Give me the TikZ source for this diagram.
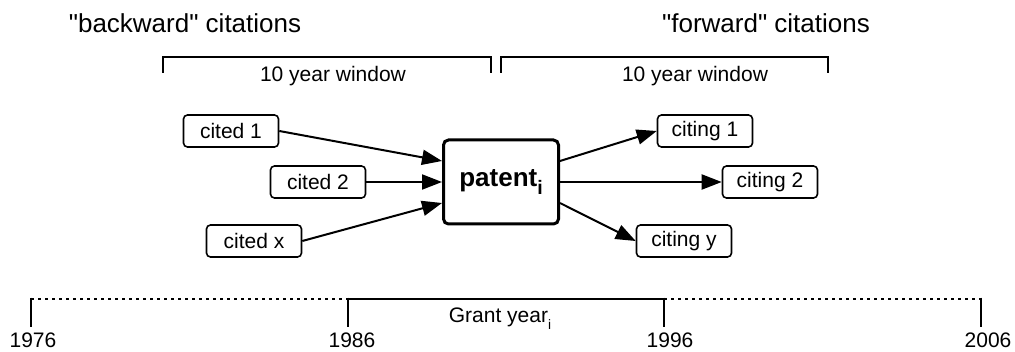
\documentclass[tikz,border=0pt]{standalone}
\usepackage{fontspec}
\setmainfont{Liberation Sans}
\usetikzlibrary{arrows.meta}

% lowered small index letter
\newcommand{\idx}[2][0.6]{\raisebox{-0.3em}{\scalebox{#1}{#2}}}

\begin{document}
\begin{tikzpicture}[x=1pt,y=-1pt,>={Triangle[length=20pt,width=15pt]}]
\tikzstyle{every node} = [font = \fontsize{21}{25}\selectfont, inner sep=0pt]
\tikzstyle{box} = [draw, rounded corners=4pt, line width=1.6pt, minimum width=95pt, minimum height=32pt]
\tikzstyle{patentbox} = [draw, rounded corners=5pt, line width=3pt, minimum width=115pt, minimum height=84pt, font=\fontsize{26}{30}\selectfont\bfseries]
\tikzstyle{heading} = [font = \fontsize{26}{30}\selectfont]
\tikzstyle{bracket} = [line width=1.3pt]
\tikzstyle{link} = [->, line width=2pt]
\tikzstyle{axis} = [line width=2.6pt]
\tikzstyle{dotline} = [line width=2pt, dash pattern=on 3pt off 4pt]
\useasboundingbox (0,0) rectangle (1015,352);

	% headings and windows
	\node [heading] (back) at (185,23) {\textquotedbl backward\textquotedbl{} citations};
	\node [heading] (fwd) at (766,23) {\textquotedbl forward\textquotedbl{} citations};
	\draw [bracket] (163,73) -- (163,57) -- (491,57) -- (491,73);
	\draw [bracket] (501,73) -- (501,57) -- (828,57) -- (828,73);
	\node [anchor=base] (winback) at (333,82) {10 year window};
	\node [anchor=base] (winfwd) at (695,82) {10 year window};

	% patent and its citations
	\node [patentbox] (patent) at (501,182) {patent\idx[0.75]{i}};
	\node [box] (cited1) at (231,131) {cited 1};
	\node [box] (cited2) at (318,182) {cited 2};
	\node [box] (citedx) at (254,241) {cited x};
	\node [box] (citing1) at (705,131) {citing 1};
	\node [box] (citing2) at (770,182) {citing 2};
	\node [box] (citingy) at (684,241) {citing y};

	\draw [link] (cited1.east) -- ([yshift=21pt]patent.west);
	\draw [link] (cited2.east) -- (patent.west);
	\draw [link] (citedx.east) -- ([yshift=-21pt]patent.west);
	\draw [link] ([yshift=21pt]patent.east) -- (citing1.west);
	\draw [link] (patent.east) -- (citing2.west);
	\draw [link] ([yshift=-21pt]patent.east) -- (citingy.west);

	% time line
	\coordinate (t76) at (31,299);
	\coordinate (t86) at (348,299);
	\coordinate (t96) at (664,299);
	\coordinate (t06) at (981,299);
	\draw [dotline] (t76) -- (t86);
	\draw [axis] (t86) -- (t96);
	\draw [dotline] (t96) -- (t06);
	\foreach \t in {t76,t86,t96,t06}
		\draw [axis] ([yshift=1.3pt]\t) -- ++(0,29);
	\node [anchor=base] (y76) at (33,348) {1976};
	\node [anchor=base] (y86) at (352,348) {1986};
	\node [anchor=base] (y96) at (670,348) {1996};
	\node [anchor=base] (y06) at (988,348) {2006};
	\node [anchor=base] (grant) at (500,323) {Grant year\idx[0.65]{i}};
\end{tikzpicture}
\end{document}
